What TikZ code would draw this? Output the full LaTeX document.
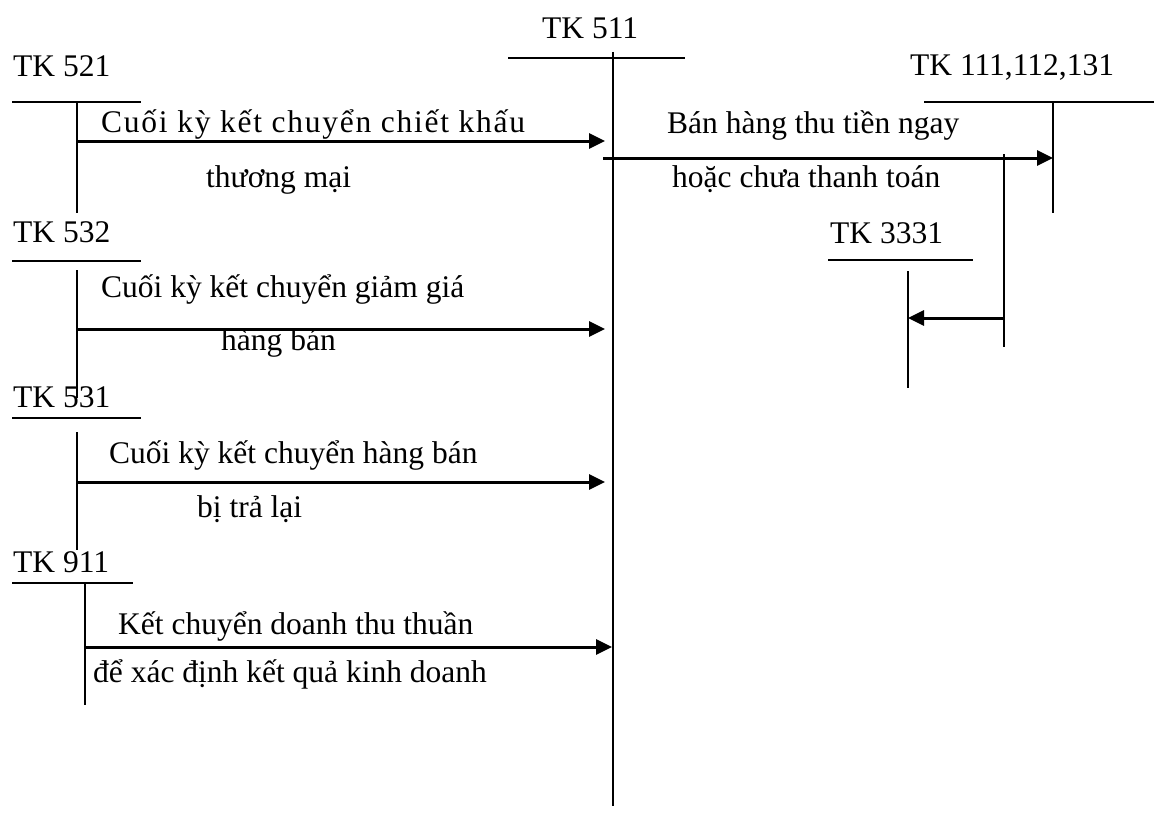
\documentclass[tikz,border=0pt]{standalone}
\usepackage{fontspec}
\setmainfont{Liberation Serif}
\usetikzlibrary{arrows.meta}
\begin{document}
\begin{tikzpicture}[x=1pt,y=-1pt,
  lbl/.style={anchor=base west,inner sep=0pt,font=\fontsize{31.5}{36}\selectfont},
  tline/.style={line width=2.2pt},
  flow/.style={line width=3pt,-{Triangle[length=16pt,width=15pt]}}]
\useasboundingbox (0,0) rectangle (1154,816);

% account labels
\node[lbl] (t511) at (542,39) {TK 511};
\node[lbl] (t521) at (13,77) {TK 521};
\node[lbl] (t532) at (13,242) {TK 532};
\node[lbl] (t531) at (13,407) {TK 531};
\node[lbl] (t911) at (13,572) {TK 911};
\node[lbl] (t111) at (910,75) {TK 111,112,131};
\node[lbl] (t3331) at (830,243) {TK 3331};

% T-account bars: top line and vertical stem
\coordinate (a511l) at (508,58);  \coordinate (a511r) at (685,58);
\coordinate (a511t) at (613,52);  \coordinate (a511b) at (613,806);
\coordinate (a521l) at (12,102);  \coordinate (a521r) at (141,102);
\coordinate (a521t) at (77,102);  \coordinate (a521b) at (77,213);
\coordinate (a532l) at (12,261);  \coordinate (a532r) at (141,261);
\coordinate (a532t) at (77,270);  \coordinate (a532b) at (77,398);
\coordinate (a531l) at (12,418);  \coordinate (a531r) at (141,418);
\coordinate (a531t) at (77,432);  \coordinate (a531b) at (77,550);
\coordinate (a911l) at (12,583);  \coordinate (a911r) at (133,583);
\coordinate (a911t) at (85,583);  \coordinate (a911b) at (85,705);
\coordinate (a111l) at (924,102); \coordinate (a111r) at (1154,102);
\coordinate (a111t) at (1053,102); \coordinate (a111b) at (1053,213);
\coordinate (a333l) at (828,260); \coordinate (a333r) at (973,260);
\coordinate (a333t) at (908,271); \coordinate (a333b) at (908,388);
\coordinate (vtt) at (1004,154);  \coordinate (vtb) at (1004,347);

\foreach \a in {a511,a521,a532,a531,a911,a111,a333} {
  \draw[tline] (\a l) -- (\a r);
  \draw[tline] (\a t) -- (\a b);
}
\draw[tline] (vtt) -- (vtb);

% flows
\coordinate (f1s) at (77,141);   \coordinate (f1e) at (605,141);
\coordinate (f2s) at (603,158);  \coordinate (f2e) at (1053,158);
\coordinate (f3s) at (77,329);   \coordinate (f3e) at (605,329);
\coordinate (f4s) at (77,482);   \coordinate (f4e) at (605,482);
\coordinate (f5s) at (85,647);   \coordinate (f5e) at (612,647);
\coordinate (f6s) at (1004,318); \coordinate (f6e) at (908,318);
\foreach \f in {f1,f2,f3,f4,f5,f6} \draw[flow] (\f s) -- (\f e);

% flow captions
\node[lbl] (c1a) at (101,132) {\addfontfeatures{LetterSpace=5.5}Cuối kỳ kết chuyển chiết khấu};
\node[lbl] (c1b) at (206,187) {thương mại};
\node[lbl] (c2a) at (667,133) {Bán hàng thu tiền ngay};
\node[lbl] (c2b) at (672,187) {hoặc chưa thanh toán};
\node[lbl] (c3a) at (101,297) {Cuối kỳ kết chuyển giảm giá};
\node[lbl] (c3b) at (221,350) {hàng bán};
\node[lbl] (c4a) at (109,463) {Cuối kỳ kết chuyển hàng bán};
\node[lbl] (c4b) at (197,517) {bị trả lại};
\node[lbl] (c5a) at (118,634) {Kết chuyển doanh thu thuần};
\node[lbl] (c5b) at (93,682) {để xác định kết quả kinh doanh};
\end{tikzpicture}
\end{document}
